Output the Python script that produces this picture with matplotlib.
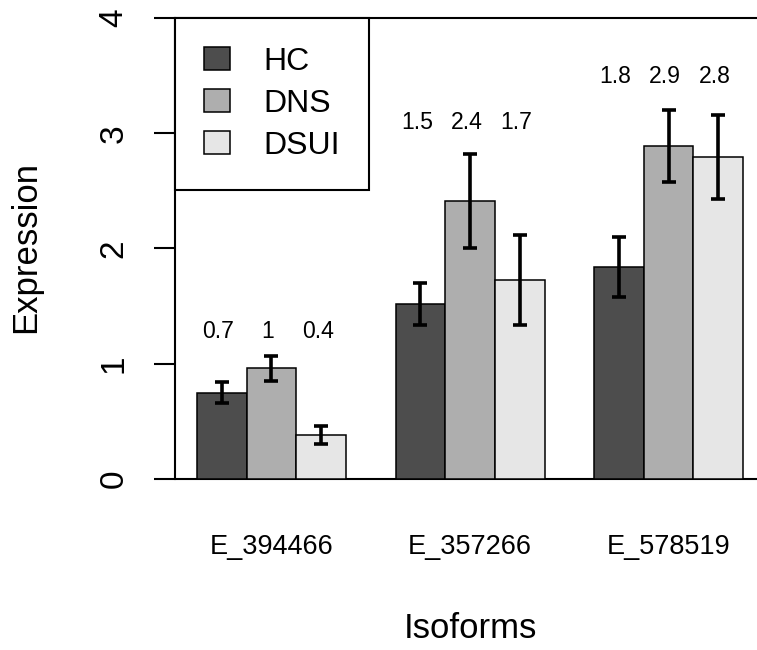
import numpy as np
import matplotlib
matplotlib.use("Agg")
import matplotlib.pyplot as plt
import matplotlib.transforms as mtransforms

plt.rcParams['font.family'] = ['Liberation Sans', 'DejaVu Sans']

############################# Data #############################

isoforms = ["E_394466", "E_357266", "E_578519"]
groups = ["HC", "DNS", "DSUI"]
colors = ["#4D4D4D", "#AEAEAE", "#E6E6E6"]

# mean expression per group (rows = groups, cols = isoforms)
means = np.array([[0.75, 1.52, 1.84],
                  [0.96, 2.41, 2.89],
                  [0.38, 1.73, 2.79]])
# half width of the error bars
errs = np.array([[0.09, 0.18, 0.26],
                 [0.11, 0.41, 0.31],
                 [0.08, 0.39, 0.365]])

value_labels = [["0.7", "1.5", "1.8"],
                ["1", "2.4", "2.9"],
                ["0.4", "1.7", "2.8"]]
label_heights = [1.28, 3.09, 3.49]

################################################################

fig = plt.figure(figsize=(7.57, 6.5), dpi=100)
ax = fig.add_axes([0.2314, 0.2348, 0.7686, 0.7652])

# R style barplot(beside=TRUE): bars of width 1, one bar gap between groups
for g in range(len(groups)):
    x = np.array([1 + 4 * k + g + 0.5 for k in range(len(isoforms))])
    ax.bar(x, means[g], width=1.0, color=colors[g], edgecolor="black",
           linewidth=1.1, label=groups[g], zorder=2)
    ax.errorbar(x, means[g], yerr=errs[g], fmt="none", ecolor="black",
                elinewidth=2.6, capsize=5, capthick=2.6, zorder=3)
    for k in range(len(isoforms)):
        ax.text(x[k] - 0.07, label_heights[k], value_labels[g][k],
                ha="center", va="center", fontsize=16.6)

# isoform names under each group
for k, name in enumerate(isoforms):
    ax.text(1 + 4 * k + 1.5, -0.59, name, ha="center", va="center",
            fontsize=19.5)

ax.set_xlim(0.56, 12.28)
ax.set_ylim(-0.16, 4.156)

for s in ["top", "right", "bottom"]:
    ax.spines[s].set_visible(False)
ax.spines["left"].set_bounds(0, 4)
ax.spines["left"].set_linewidth(1.5)
ax.axhline(0, color="black", linewidth=1.5, zorder=1)
ax.axhline(4, color="black", linewidth=1.5, zorder=1)

ax.set_xticks([])
ax.set_yticks([0, 1, 2, 3, 4])
ax.set_yticklabels(["0", "1", "2", "3", "4"], rotation=90, va="center",
                   fontsize=24)
ax.tick_params(axis="y", length=15, width=1.5, pad=18)

ax.text(6.5, -1.3, "Isoforms", ha="center", va="center", fontsize=25)
fig.text(26 / 757, 1 - 247 / 650, "Expression", rotation=90, ha="center",
         va="center", fontsize=25)

trans = mtransforms.blended_transform_factory(ax.transAxes, ax.transData)
leg = ax.legend(loc="upper left", bbox_to_anchor=(0, 4), bbox_transform=trans,
                borderaxespad=0, fancybox=False, edgecolor="black",
                framealpha=1, fontsize=23, handlelength=0.81,
                handleheight=0.72, labelspacing=0.38, borderpad=0.9,
                handletextpad=1.05)
leg.get_frame().set_linewidth(1.5)

fig.savefig("out.png", dpi=100)
